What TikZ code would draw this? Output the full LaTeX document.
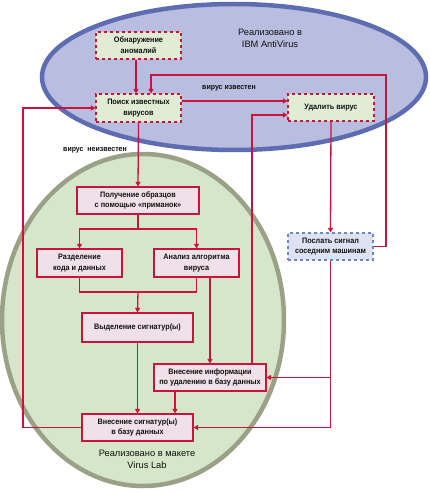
\documentclass[tikz,border=0pt]{standalone}
\usepackage{fontspec}
\setmainfont{Liberation Sans}
\newfontfamily\boxfont{Liberation Sans}[FakeStretch=0.92]
\usetikzlibrary{arrows.meta,calc}
\definecolor{lnred}{HTML}{C8143C}
\definecolor{blfill}{HTML}{B9BDE0}
\definecolor{bledge}{HTML}{5E6DB2}
\definecolor{grfill}{HTML}{D6E6C8}
\definecolor{gredge}{HTML}{9AA186}
\definecolor{topfill}{HTML}{E1ECD4}
\definecolor{lowfill}{HTML}{F0E0E8}
\definecolor{sigfill}{HTML}{DDE3F2}
\definecolor{sigedge}{HTML}{6F86C6}
\definecolor{txt}{HTML}{111111}
\tikzset{
  boxbase/.style={rectangle, align=center, text=txt, inner sep=1pt,
    font=\boxfont\fontsize{7.9}{10.8}\selectfont\bfseries},
  topbox/.style={boxbase, draw=lnred, dashed, line width=1.2pt, fill=topfill},
  lowbox/.style={boxbase, draw=lnred, line width=1.2pt, fill=lowfill},
  sigbox/.style={boxbase, draw=sigedge, dashed, line width=1.2pt, fill=sigfill},
  conn/.style={draw=lnred, line width=1.3pt},
  arr/.style={conn, -{Triangle[width=5pt,length=4.5pt]}},
  lbl/.style={text=txt, font=\boxfont\fontsize{7.6}{9}\selectfont\bfseries},
  biglbl/.style={text=txt, align=center, font=\fontsize{9.3}{12}\selectfont},
}
\begin{document}
\begin{tikzpicture}[x=1pt,y=-1pt]
\useasboundingbox (0,0) rectangle (430,492);
\fill[white] (0,0) rectangle (430,492);
% ellipses
\draw[fill=blfill, draw=bledge, line width=4.5pt] (234,77) ellipse [x radius=192, y radius=73];
\draw[fill=grfill, draw=gredge, line width=4.5pt] (143,320) ellipse [x radius=141, y radius=166];
\node[biglbl] (ibm) at (270,38) {Реализовано в\\IBM AntiVirus};
\node[biglbl] (vlab) at (147,459) {Реализовано в макете\\Virus Lab};
% nodes
\node[topbox, minimum width=85pt, minimum height=27pt] (anom) at (138.5,45.5) {Обнаружение\\аномалий};
\node[topbox, minimum width=85pt, minimum height=28pt] (poisk) at (138.5,108) {Поиск известных\\вирусов};
\node[topbox, minimum width=86pt, minimum height=27pt] (udal) at (331,107.5) {Удалить вирус};
\node[lowbox, minimum width=122pt, minimum height=27pt] (poluch) at (138,200.5) {Получение образцов\\с помощью «приманок»};
\node[lowbox, minimum width=85pt, minimum height=28pt] (razd) at (79.5,263) {Разделение\\кода и данных};
\node[lowbox, minimum width=85pt, minimum height=28pt] (anal) at (196.5,263) {Анализ алгоритма\\вируса};
\node[lowbox, minimum width=111pt, minimum height=29pt] (vydel) at (137.5,327.5) {Выделение сигнатур(ы)};
\node[sigbox, minimum width=85pt, minimum height=27pt] (poslat) at (330.5,246.5) {Послать сигнал\\соседним машинам};
\node[lowbox, minimum width=112pt, minimum height=27pt] (vninf) at (210,377.5) {Внесение информации\\по удалению в базу данных};
\node[lowbox, minimum width=111pt, minimum height=27pt] (vnsig) at (137.5,427.5) {Внесение сигнатур(ы)\\в базу данных};
% labels
\node[lbl] (known) at (229,88) {вирус известен};
\node[lbl] (unknown) at (95,150) {вирус\ \ неизвестен};
% helper coordinates
\coordinate (c1) at (386,75);
\coordinate (pe) at ($(poisk.east)+(0,-7)$);
\coordinate (ue) at ($(udal.west)+(0,7.5)$);
\coordinate (xl) at (252,0);
\coordinate (sp) at (138,229);
\coordinate (jn) at (138,292);
\coordinate (xa) at (175,0);
\coordinate (xb) at (23,0);
% connectors
\draw[arr] ($(anom.south)+(-2.5,0)$) -- ($(poisk.north)+(-2.5,0)$);
\draw[arr] (poslat.east) -| (c1) -| ($(poisk.north)+(12.5,0)$);
\draw[arr] (pe) -- (pe -| udal.west);
\draw[arr] (vninf.north -| xl) |- (ue);
\draw[arr] (poisk.south) -- (poluch.north);
\draw[arr] (udal.south) -- (poslat.north);
\draw[arr] (poslat.south) |- (vninf.east);
\draw[arr] (poslat.south) |- (vnsig.east);
\draw[conn] (poluch.south) -- (sp);
\draw[arr] (sp) -| (razd.north);
\draw[arr] (sp) -| (anal.north);
\draw[conn] (razd.south) |- (jn);
\draw[conn] (anal.south) |- (jn);
\draw[arr] (jn) -- (vydel.north);
\draw[arr] (anal.south -| vninf.north) -- (vninf.north);
\draw[arr] (vydel.south) -- (vnsig.north);
\draw[arr] (vninf.south -| xa) -- (vnsig.north -| xa);
\draw[arr] (vnsig.west) -| (xb |- poisk.west) -- (poisk.west);
\end{tikzpicture}
\end{document}
